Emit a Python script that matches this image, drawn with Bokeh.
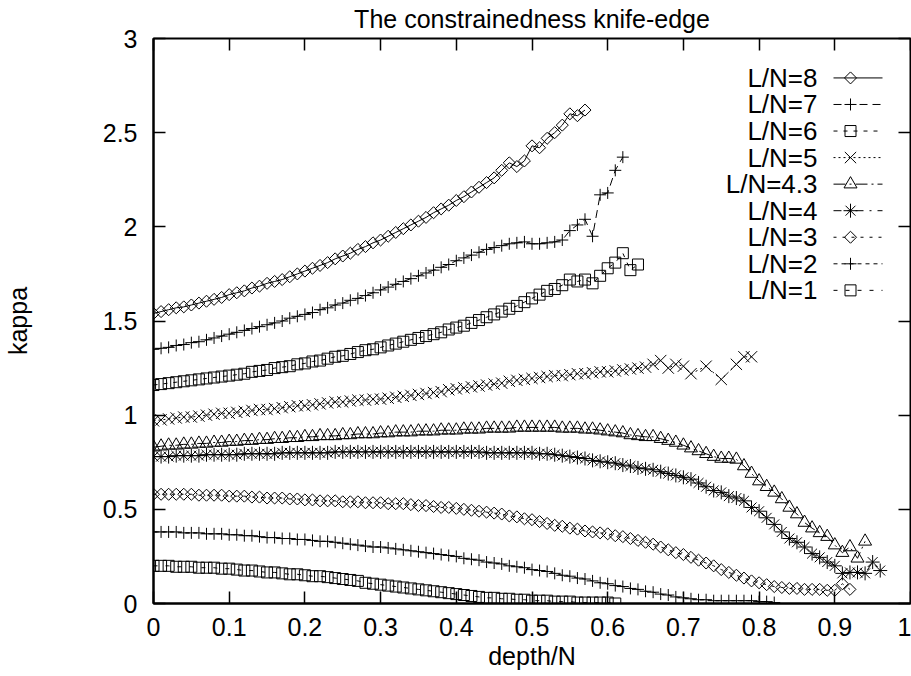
import math
from bokeh.plotting import figure
from bokeh.models import Range1d, FixedTicker, CustomJSTickFormatter, LinearAxis
from bokeh.core.properties import value
from bokeh.embed import file_html
from bokeh.resources import INLINE

# ---------------- data ----------------
title_text = "The constrainedness knife-edge"
x_ticks = [0, 0.1, 0.2, 0.3, 0.4, 0.5, 0.6, 0.7, 0.8, 0.9, 1.0]
y_ticks = [0, 0.5, 1.0, 1.5, 2.0, 2.5, 3.0]

labels = ["L/N=8", "L/N=7", "L/N=6", "L/N=5", "L/N=4.3", "L/N=4", "L/N=3", "L/N=2", "L/N=1"]


def depth_grid(n):
    return [round(i * 0.01, 2) for i in range(n)]


kappa_8 = [1.54, 1.55, 1.56, 1.57, 1.575, 1.585, 1.595, 1.605, 1.615, 1.625,
           1.64, 1.65, 1.66, 1.675, 1.685, 1.70, 1.71, 1.72, 1.735, 1.75,
           1.765, 1.78, 1.795, 1.81, 1.83, 1.845, 1.86, 1.88, 1.895, 1.915,
           1.93, 1.95, 1.97, 1.99, 2.01, 2.03, 2.05, 2.075, 2.095, 2.115,
           2.14, 2.16, 2.185, 2.21, 2.235, 2.26, 2.30, 2.34, 2.32, 2.35,
           2.43, 2.42, 2.47, 2.50, 2.54, 2.60, 2.59, 2.62]
depth_8 = depth_grid(len(kappa_8))

kappa_7 = [1.35, 1.355, 1.36, 1.37, 1.375, 1.385, 1.39, 1.40, 1.41, 1.42,
           1.43, 1.44, 1.45, 1.46, 1.47, 1.48, 1.49, 1.50, 1.515, 1.525,
           1.535, 1.545, 1.56, 1.57, 1.585, 1.595, 1.61, 1.62, 1.635, 1.65,
           1.665, 1.68, 1.695, 1.71, 1.725, 1.74, 1.755, 1.77, 1.785, 1.80,
           1.82, 1.835, 1.85, 1.865, 1.88, 1.89, 1.90, 1.91, 1.915, 1.92,
           1.91, 1.91, 1.915, 1.92, 1.93, 1.98, 2.01, 2.04, 1.95, 2.17,
           2.18, 2.30, 2.37]
depth_7 = depth_grid(len(kappa_7))

kappa_6 = [1.16, 1.165, 1.17, 1.175, 1.18, 1.185, 1.19, 1.195, 1.20, 1.205,
           1.21, 1.215, 1.22, 1.23, 1.235, 1.24, 1.25, 1.255, 1.26, 1.27,
           1.275, 1.285, 1.29, 1.30, 1.31, 1.315, 1.325, 1.335, 1.345, 1.35,
           1.36, 1.37, 1.38, 1.39, 1.40, 1.41, 1.42, 1.43, 1.44, 1.455,
           1.465, 1.475, 1.49, 1.505, 1.52, 1.535, 1.55, 1.565, 1.58, 1.60,
           1.62, 1.64, 1.66, 1.67, 1.69, 1.72, 1.71, 1.72, 1.70, 1.74,
           1.78, 1.81, 1.86, 1.77, 1.80]
depth_6 = depth_grid(len(kappa_6))

kappa_5 = [0.97, 0.975, 0.98, 0.985, 0.99, 0.99, 0.995, 1.00, 1.005, 1.01,
           1.01, 1.015, 1.02, 1.025, 1.03, 1.03, 1.035, 1.04, 1.045, 1.05,
           1.05, 1.055, 1.06, 1.065, 1.07, 1.07, 1.075, 1.08, 1.08, 1.085,
           1.085, 1.09, 1.095, 1.10, 1.105, 1.11, 1.115, 1.12, 1.125, 1.135,
           1.14, 1.145, 1.15, 1.155, 1.16, 1.165, 1.17, 1.18, 1.185, 1.19,
           1.195, 1.20, 1.205, 1.21, 1.21, 1.215, 1.22, 1.22, 1.225, 1.23,
           1.23, 1.235, 1.24, 1.245, 1.25, 1.255, 1.27, 1.29, 1.25, 1.27,
           1.26, 1.22,
           1.26, 1.19, 1.27, 1.31, 1.31]
depth_5 = depth_grid(72) + [0.73, 0.75, 0.77, 0.78, 0.79]

kappa_43 = [0.83, 0.835, 0.84, 0.84, 0.845, 0.845, 0.85, 0.85, 0.855, 0.855,
            0.86, 0.86, 0.865, 0.865, 0.87, 0.87, 0.875, 0.875, 0.88, 0.88,
            0.885, 0.885, 0.89, 0.89, 0.89, 0.895, 0.895, 0.90, 0.90, 0.90,
            0.905, 0.905, 0.91, 0.91, 0.91, 0.915, 0.915, 0.915, 0.92, 0.92,
            0.92, 0.925, 0.925, 0.925, 0.93, 0.93, 0.93, 0.93, 0.935, 0.935,
            0.935, 0.935, 0.935, 0.935, 0.93, 0.93, 0.93, 0.925, 0.925, 0.92,
            0.915, 0.91, 0.905, 0.895, 0.89, 0.885, 0.885, 0.875, 0.865, 0.855,
            0.84, 0.825, 0.81, 0.795, 0.78, 0.77, 0.77, 0.765, 0.73, 0.69,
            0.65, 0.62, 0.59, 0.555, 0.51, 0.475, 0.43, 0.40, 0.375, 0.355,
            0.31, 0.27, 0.30, 0.24, 0.33]
depth_43 = depth_grid(len(kappa_43))

kappa_4 = [0.78, 0.78, 0.78, 0.785, 0.785, 0.785, 0.785, 0.79, 0.79, 0.79,
           0.79, 0.79, 0.795, 0.795, 0.795, 0.795, 0.795, 0.80, 0.80, 0.80,
           0.80, 0.80, 0.80, 0.80, 0.805, 0.805, 0.805, 0.805, 0.805, 0.805,
           0.805, 0.805, 0.805, 0.805, 0.805, 0.805, 0.805, 0.805, 0.805, 0.805,
           0.805, 0.805, 0.805, 0.805, 0.80, 0.80, 0.80, 0.80, 0.80, 0.80,
           0.80, 0.795, 0.795, 0.79, 0.785, 0.78, 0.775, 0.77, 0.76, 0.755,
           0.75, 0.745, 0.735, 0.73, 0.72, 0.715, 0.71, 0.70, 0.69, 0.68,
           0.67, 0.66, 0.64, 0.62, 0.60, 0.59, 0.57, 0.56, 0.545, 0.51,
           0.49, 0.455, 0.42, 0.38, 0.345, 0.325, 0.30, 0.265, 0.245, 0.22,
           0.20, 0.16, 0.165, 0.165, 0.16, 0.22, 0.175]
depth_4 = depth_grid(len(kappa_4))

kappa_3 = [0.58, 0.58, 0.58, 0.58, 0.58, 0.58, 0.575, 0.575, 0.575, 0.575,
           0.57, 0.57, 0.57, 0.565, 0.565, 0.56, 0.56, 0.56, 0.555, 0.555,
           0.55, 0.55, 0.545, 0.545, 0.545, 0.54, 0.54, 0.54, 0.535, 0.535,
           0.535, 0.53, 0.53, 0.53, 0.525, 0.52, 0.52, 0.515, 0.51, 0.51,
           0.505, 0.50, 0.495, 0.49, 0.485, 0.48, 0.475, 0.465, 0.46, 0.45,
           0.445, 0.435, 0.425, 0.415, 0.41, 0.40, 0.395, 0.385, 0.38, 0.375,
           0.37, 0.36, 0.355, 0.345, 0.335, 0.325, 0.315, 0.30, 0.285, 0.27,
           0.26, 0.245, 0.23, 0.215, 0.20, 0.18, 0.165, 0.15, 0.135, 0.12,
           0.11, 0.10, 0.09, 0.085, 0.08, 0.08, 0.075, 0.075, 0.075, 0.07,
           0.07, 0.105, 0.075]
depth_3 = depth_grid(len(kappa_3))

kappa_2 = [0.38, 0.38, 0.38, 0.38, 0.375, 0.375, 0.375, 0.37, 0.37, 0.37,
           0.365, 0.365, 0.36, 0.36, 0.355, 0.35, 0.35, 0.345, 0.345, 0.34,
           0.34, 0.335, 0.33, 0.33, 0.325, 0.32, 0.315, 0.31, 0.305, 0.30,
           0.30, 0.295, 0.29, 0.285, 0.28, 0.275, 0.27, 0.265, 0.26, 0.255,
           0.25, 0.24, 0.235, 0.23, 0.22, 0.215, 0.21, 0.20, 0.195, 0.19,
           0.18, 0.175, 0.17, 0.16, 0.15, 0.145, 0.135, 0.13, 0.12, 0.11,
           0.105, 0.095, 0.09, 0.08, 0.075, 0.065, 0.06, 0.05, 0.045, 0.035,
           0.03, 0.025, 0.02, 0.02, 0.015, 0.015, 0.015, 0.015, 0.015, 0.015,
           0.01, 0.01, 0.005]
depth_2 = depth_grid(len(kappa_2))

kappa_1 = [0.20, 0.20, 0.20, 0.195, 0.195, 0.195, 0.19, 0.19, 0.19, 0.185,
           0.185, 0.18, 0.175, 0.175, 0.17, 0.165, 0.165, 0.16, 0.155, 0.155,
           0.15, 0.145, 0.145, 0.14, 0.135, 0.13, 0.125, 0.12, 0.11, 0.105,
           0.10, 0.095, 0.09, 0.085, 0.08, 0.075, 0.07, 0.065, 0.06, 0.055,
           0.05, 0.045, 0.04, 0.035, 0.03, 0.03, 0.025, 0.025, 0.02, 0.02,
           0.015, 0.015, 0.015, 0.01, 0.01, 0.01, 0.005, 0.005, 0.005, 0.005,
           0.005, 0.0]
depth_1 = depth_grid(len(kappa_1))

series_x = [depth_8, depth_7, depth_6, depth_5, depth_43, depth_4, depth_3, depth_2, depth_1]
series_y = [kappa_8, kappa_7, kappa_6, kappa_5, kappa_43, kappa_4, kappa_3, kappa_2, kappa_1]

# ---------------- styles ----------------
FONT = "Liberation Sans"
FS = "25px"
KEY_FS = "26px"
markers = {
    "diamond": dict(marker="square", size=8.5, angle=math.pi / 4),
    "plus": dict(marker="cross", size=12, angle=0),
    "square": dict(marker="square", size=11, angle=0),
    "x": dict(marker="x", size=16, angle=0),
    "triangle": dict(marker="triangle", size=13, angle=0),
    "asterisk": dict(marker="asterisk", size=14, angle=0),
}
series_marker = ["diamond", "plus", "square", "x", "triangle", "asterisk", "diamond", "plus", "square"]
series_dash = ["solid", "8 5", "4 6", "2 3", "12 4 2 4", "8 6 2 6", "3 6", "4 4", "4 8"]

# ---------------- figure ----------------
p = figure(width=911, height=676, x_range=Range1d(0, 1), y_range=Range1d(0, 3),
           output_backend="svg", toolbar_location=None, title=title_text,
           min_border_left=153, min_border_right=1, min_border_top=37, min_border_bottom=73,
           x_axis_label="depth/N", y_axis_label="kappa")
p.background_fill_color = "white"
p.border_fill_color = "white"
p.outline_line_color = "black"
p.outline_line_width = 2
p.xgrid.visible = False
p.ygrid.visible = False

p.title.align = "center"
p.title.text_font = FONT
p.title.text_font_size = FS
p.title.text_font_style = "normal"
p.title.text_color = "black"
p.title.vertical_align = "top"
p.title.standoff = 8

fmt = CustomJSTickFormatter(code="return Number(tick.toFixed(2)).toString();")

for ax, ticks in ((p.xaxis[0], x_ticks), (p.yaxis[0], y_ticks)):
    ax.ticker = FixedTicker(ticks=ticks)
    ax.formatter = fmt
    ax.major_tick_in = 12
    ax.major_tick_out = 0
    ax.major_tick_line_width = 1.5
    ax.minor_tick_line_color = None
    ax.axis_line_width = 2
    ax.major_label_text_font = FONT
    ax.major_label_text_font_size = FS
    ax.major_label_text_color = "black"
    ax.axis_label_text_font = FONT
    ax.axis_label_text_font_size = FS
    ax.axis_label_text_font_style = "normal"
    ax.axis_label_text_color = "black"

p.xaxis[0].major_label_standoff = 14
p.xaxis[0].axis_label_standoff = 3
p.yaxis[0].major_label_standoff = 16
p.yaxis[0].axis_label_standoff = 68

# mirrored ticks on top and right (no labels)
for loc, ticks in (("above", x_ticks), ("right", y_ticks)):
    ax = LinearAxis(ticker=FixedTicker(ticks=ticks), major_tick_in=12, major_tick_out=0,
                    major_tick_line_width=1.5, minor_tick_line_color=None,
                    axis_line_color=None, major_label_text_color=None,
                    major_label_text_font_size="1px", major_label_standoff=0)
    p.add_layout(ax, loc)

# ---------------- data series ----------------
for xs, ys, mk, dash in zip(series_x, series_y, series_marker, series_dash):
    p.line(xs, ys, line_color="black", line_width=1, line_dash=dash)
    p.scatter(xs, ys, fill_color=None, line_color="black", line_width=1, **markers[mk])

# ---------------- key (gnuplot style: label then sample) ----------------
p.extra_x_ranges = {"px": Range1d(153, 910)}
p.extra_y_ranges = {"py": Range1d(603, 37)}
row_y = [76.5 + 26.6 * i for i in range(len(labels))]
p.text(x=[817] * len(labels), y=row_y, text=labels, x_range_name="px", y_range_name="py",
       text_align="right", text_baseline="middle", text_color="black",
       text_font=value(FONT), text_font_size=value(KEY_FS))
for ry, mk, dash in zip(row_y, series_marker, series_dash):
    p.line([833, 882], [ry, ry], x_range_name="px", y_range_name="py",
           line_color="black", line_width=1, line_dash=dash)
    p.scatter([850], [ry], x_range_name="px", y_range_name="py",
              fill_color=None, line_color="black", line_width=1, **markers[mk])

open("out.html", "w").write(file_html(p, INLINE))
